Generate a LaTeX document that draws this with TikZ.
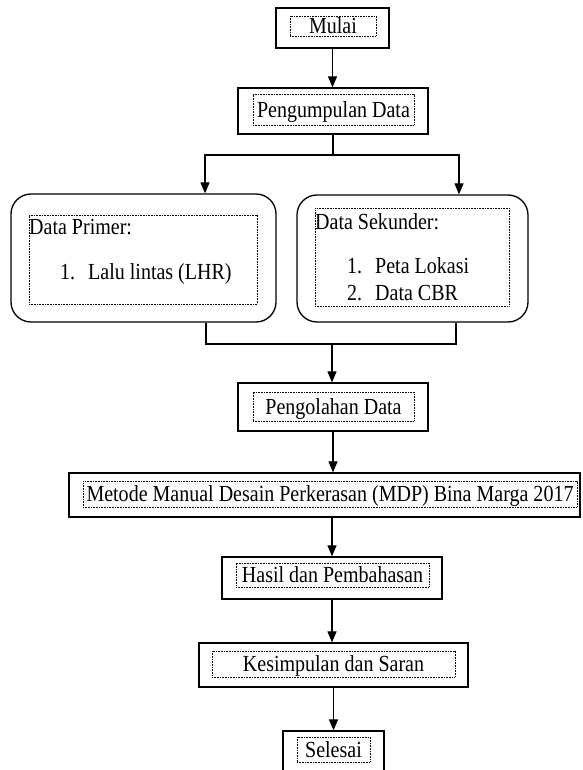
\documentclass[tikz,border=0pt]{standalone}
\usepackage{fontspec}
\setmainfont[FakeStretch=0.87]{Liberation Serif}
\usetikzlibrary{arrows.meta}
\begin{document}
\begin{tikzpicture}[x=1pt,y=-1pt,
  outer/.style={draw, line width=1.3pt, inner sep=0pt},
  roundbox/.style={outer, rounded corners=20pt},
  dotbox/.style={draw, line width=0.8pt, dash pattern=on 0.8pt off 0.8pt, inner sep=0pt,
    text height=15.5pt, text depth=0pt, font=\fontsize{23}{27}\selectfont},
  lbl/.style={anchor=base west, inner sep=0pt, font=\fontsize{23}{27}\selectfont},
  conn/.style={line width=1.2pt},
  arr/.style={conn, -{Triangle[width=9pt,length=11pt]}}
]
\useasboundingbox (0,0) rectangle (582,770);

% Mulai
\node[outer, minimum width=113pt, minimum height=40pt] (mulai) at (332.5,28) {};
\node[dotbox, minimum width=86pt, minimum height=20pt] (mulaiT) at (333,26) {Mulai};

% Pengumpulan Data
\node[outer, minimum width=190pt, minimum height=46pt] (peng) at (333,111) {};
\node[dotbox, minimum width=161pt, minimum height=31pt] (pengT) at (333.5,109.5) {Pengumpulan Data};

% Data Primer
\node[roundbox, minimum width=265pt, minimum height=128pt] (primer) at (143.5,258) {};
\node[dotbox, minimum width=228pt, minimum height=89pt] (primerT) at (143,259.5) {};
\node[lbl] (p0) at (29,234) {Data Primer:};
\node[lbl] (p1n) at (60,279) {1.};
\node[lbl] (p1) at (88,279) {Lalu lintas (LHR)};

% Data Sekunder
\node[roundbox, minimum width=231pt, minimum height=127pt] (sek) at (412.5,258.5) {};
\node[dotbox, minimum width=194pt, minimum height=98pt] (sekT) at (412,257) {};
\node[lbl] (s0) at (315,229) {Data Sekunder:};
\node[lbl] (s1n) at (347,273) {1.};
\node[lbl] (s1) at (375,273) {Peta Lokasi};
\node[lbl] (s2n) at (347,300) {2.};
\node[lbl] (s2) at (375,300) {Data CBR};

% Pengolahan Data
\node[outer, minimum width=190pt, minimum height=48pt] (olah) at (333,407) {};
\node[dotbox, minimum width=161pt, minimum height=29pt] (olahT) at (333.5,406.5) {Pengolahan Data};

% Metode
\node[outer, minimum width=511pt, minimum height=44pt] (metode) at (324.5,495) {};
\node[dotbox, minimum width=494pt, minimum height=26pt] (metodeT) at (330,494) {Metode Manual Desain Perkerasan (MDP) Bina Marga 2017};

% Hasil
\node[outer, minimum width=220pt, minimum height=42pt] (hasil) at (332,578) {};
\node[dotbox, minimum width=193pt, minimum height=24pt] (hasilT) at (332.5,575) {Hasil dan Pembahasan};

% Kesimpulan
\node[outer, minimum width=269pt, minimum height=44pt] (kes) at (333.5,665) {};
\node[dotbox, minimum width=243pt, minimum height=26pt] (kesT) at (333.5,664) {Kesimpulan dan Saran};

% Selesai
\node[outer, minimum width=101pt, minimum height=44pt] (selesai) at (333.5,753) {};
\node[dotbox, minimum width=73pt, minimum height=25pt] (selesaiT) at (333.5,749.5) {Selesai};

% connectors
\coordinate (split) at (333,155);
\coordinate (cL) at (205,155);
\coordinate (cR) at (459,155);
\coordinate (jL) at (206,344);
\coordinate (jR) at (456,344);
\coordinate (jM) at (332,344);

\draw[arr] (mulai.south) -- (mulai.south |- peng.north);
\draw[conn] (peng.south) -- (split);
\draw[arr] (split) -- (cL) -- (cL |- primer.north);
\draw[arr] (split) -- (cR) -- (cR |- sek.north);
\draw[conn] (jL |- primer.south) -- (jL) -- (jR) -- (jR |- sek.south);
\draw[arr] (jM) -- (jM |- olah.north);
\draw[arr] (olah.south) -- (olah.south |- metode.north);
\draw[arr] (hasil.north |- metode.south) -- (hasil.north);
\draw[arr] (hasil.south) -- (hasil.south |- kes.north);
\draw[arr] (kes.south) -- (kes.south |- selesai.north);
\end{tikzpicture}
\end{document}
